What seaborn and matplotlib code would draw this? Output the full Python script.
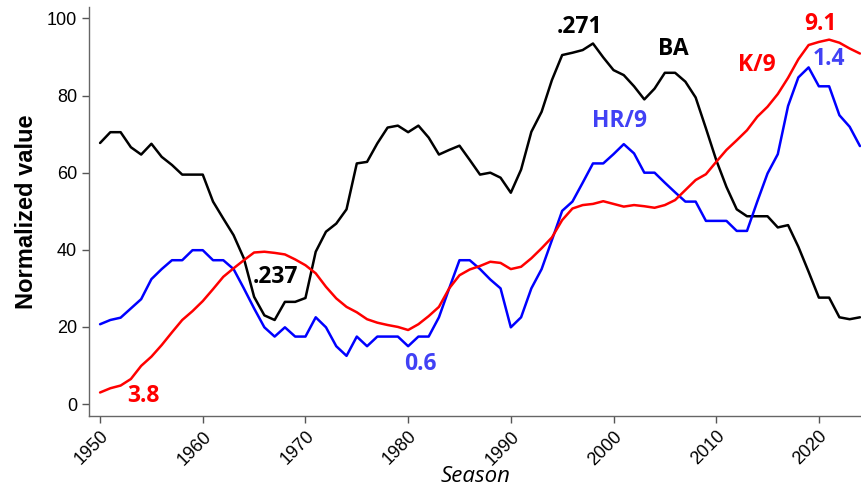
import matplotlib
matplotlib.use("Agg")
import matplotlib.pyplot as plt
import seaborn as sns
import pandas as pd

# seasons 1950-2024
seasons = list(range(1950, 2025))

ba = [67.7, 70.5, 70.5, 66.6, 64.7, 67.5, 64.1, 62.0, 59.5, 59.5,
      59.5, 52.5, 48.1, 43.8, 37.8, 27.8, 23.0, 21.8, 26.5, 26.5,
      27.5, 39.5, 44.7, 46.8, 50.5, 62.4, 62.8, 67.6, 71.7, 72.2,
      70.5, 72.2, 69.1, 64.7, 65.9, 67.0, 63.3, 59.5, 60.0, 58.7,
      54.8, 60.8, 70.6, 75.8, 84.0, 90.5, 91.1, 91.8, 93.5, 89.9,
      86.6, 85.3, 82.4, 79.0, 81.8, 85.9, 85.9, 83.6, 79.5, 71.5,
      63.3, 56.3, 50.5, 48.7, 48.7, 48.7, 45.8, 46.4, 40.8, 34.3,
      27.6, 27.6, 22.5, 22.0, 22.5]

hr9 = [20.7, 21.8, 22.4, 24.8, 27.2, 32.4, 35.0, 37.3, 37.3, 39.9,
       39.9, 37.3, 37.3, 35.0, 30.0, 24.8, 19.9, 17.5, 19.9, 17.5,
       17.5, 22.5, 19.9, 15.0, 12.5, 17.5, 15.0, 17.5, 17.5, 17.5,
       15.0, 17.5, 17.5, 22.5, 30.0, 37.3, 37.3, 35.0, 32.3, 30.0,
       19.9, 22.5, 30.0, 35.0, 42.5, 50.1, 52.5, 57.4, 62.4, 62.4,
       64.8, 67.4, 65.0, 60.0, 60.0, 57.4, 54.9, 52.5, 52.5, 47.5,
       47.5, 47.5, 44.9, 44.9, 52.5, 59.8, 64.8, 77.3, 84.7, 87.3,
       82.4, 82.4, 74.9, 71.9, 66.9]

k9 = [3.0, 4.1, 4.8, 6.5, 9.9, 12.3, 15.3, 18.6, 21.8, 24.1,
      26.7, 29.8, 33.0, 35.2, 37.3, 39.3, 39.5, 39.2, 38.8, 37.5,
      36.0, 33.9, 30.4, 27.4, 25.2, 23.8, 22.0, 21.1, 20.5, 20.0,
      19.2, 20.7, 22.8, 25.2, 30.0, 33.4, 34.9, 35.8, 36.9, 36.6,
      35.0, 35.6, 37.8, 40.4, 43.2, 47.7, 50.7, 51.6, 51.9, 52.6,
      51.9, 51.2, 51.6, 51.3, 50.9, 51.6, 52.9, 55.5, 58.1, 59.6,
      62.8, 65.9, 68.4, 71.0, 74.5, 77.1, 80.4, 84.6, 89.4, 93.1,
      93.9, 94.5, 93.7, 92.2, 90.9]

df = pd.DataFrame({"Season": seasons, "BA": ba, "HR/9": hr9, "K/9": k9})
long_df = df.melt(id_vars="Season", var_name="stat", value_name="value")

sns.set_style("ticks")
plt.rcParams["font.family"] = ["Liberation Sans", "DejaVu Sans"]

fig = plt.figure(figsize=(8.62, 4.9), dpi=100)
ax = fig.add_axes([0.103, 0.151, 0.897, 0.835])

palette = {"BA": "black", "HR/9": "#0000ff", "K/9": "#ff0000"}
sns.lineplot(data=long_df, x="Season", y="value", hue="stat",
             palette=palette, linewidth=1.8, legend=False, ax=ax)

ax.set_xlim(1948.9, 2024.2)
ax.set_ylim(-3.1, 103)
ax.set_xticks(range(1950, 2021, 10))
ax.set_yticks(range(0, 101, 20))
ax.tick_params(axis="both", colors="#555555", labelcolor="black",
               labelsize=13, length=5, width=1)
for lab in ax.get_xticklabels():
    lab.set_rotation(45)
    lab.set_ha("right")
    lab.set_rotation_mode("anchor")

sns.despine(ax=ax)
for s in ["left", "bottom"]:
    ax.spines[s].set_color("#666666")
    ax.spines[s].set_linewidth(1)

ax.set_ylabel("Normalized value", fontsize=17, fontweight="bold",
              color="black", labelpad=6)
ax.set_xlabel("Season", fontsize=16, fontstyle="italic", color="black",
              family="Open Sans")
# place the x label just below the rotated tick labels
ax.xaxis.set_label_coords(0.5, -0.148)
ax.xaxis.label.set_va("center")

blue_txt = "#4141f5"
notes = [
    (".237", 1967.1, 32.9, "black"),
    (".271", 1996.7, 97.7, "black"),
    ("BA", 2005.8, 92.2, "black"),
    ("K/9", 2014.0, 87.9, "#ff0000"),
    ("9.1", 2020.2, 98.6, "#ff0000"),
    ("3.8", 1954.2, 2.1, "#ff0000"),
    ("1.4", 2021.0, 89.5, blue_txt),
    ("HR/9", 2000.6, 73.4, blue_txt),
    ("0.6", 1981.2, 10.5, blue_txt),
]
for txt, x, y, c in notes:
    ax.text(x, y, txt, color=c, fontsize=16.5, fontweight="bold",
            family="Open Sans", ha="center", va="center")

fig.savefig("out.png", dpi=100)
